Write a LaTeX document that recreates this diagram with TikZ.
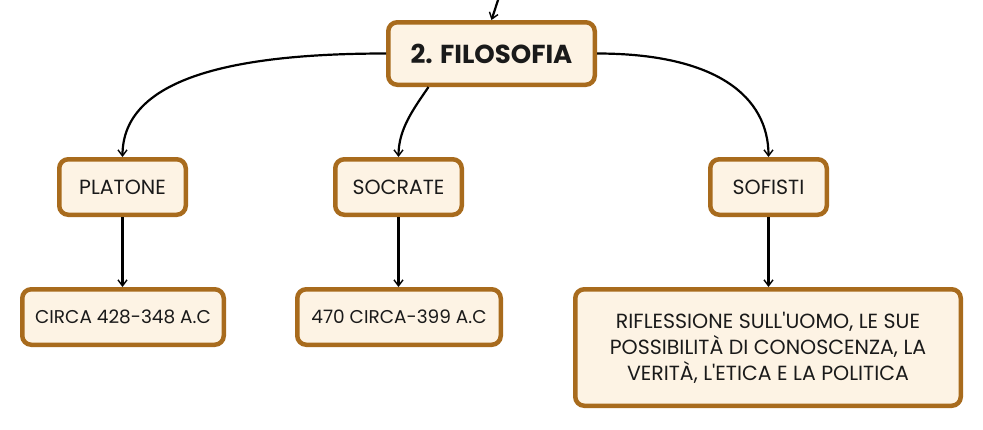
\documentclass[tikz,border=0pt]{standalone}
\usepackage{fontspec}
\setmainfont{Poppins}[Ligatures=TeXOff]
\usetikzlibrary{arrows.meta,calc}
\definecolor{brd}{HTML}{A86B1D}
\definecolor{fil}{HTML}{FDF3E4}
\definecolor{txt}{HTML}{1A1A1A}
\tikzset{
  box/.style={draw=brd, line width=4.5pt, fill=fil, rounded corners=9pt, inner sep=0pt,
    align=center, text=txt, font=\fontsize{20.5}{26}\selectfont},
  smallbox/.style={box, font=\fontsize{18.5}{26}\selectfont},
  conn/.style={draw=black, line width=2.2pt, -{Straight Barb[length=6pt,width=9pt,line width=1.4pt]}},
}
\begin{document}
\begin{tikzpicture}[x=1pt,y=-1pt]
\useasboundingbox (0,0) rectangle (983,429);
\node[box, minimum width=206.5pt, minimum height=62.5pt, font=\fontsize{26}{30}\selectfont\bfseries] (fil) at (491.5,53.5) {2. FILOSOFIA};
\node[box, minimum width=126.5pt, minimum height=55.5pt] (plat) at (122.5,187) {PLATONE};
\node[box, minimum width=126.5pt, minimum height=55.5pt] (socr) at (398.5,187) {SOCRATE};
\node[box, minimum width=116.5pt, minimum height=55.5pt] (sof) at (768.5,187) {SOFISTI};
\node[smallbox, minimum width=201.5pt, minimum height=55.5pt] (c1) at (123,317) {CIRCA 428-348 A.C};
\node[smallbox, minimum width=203.5pt, minimum height=55.5pt] (c2) at (399,317) {470 CIRCA-399 A.C};
\node[box, minimum width=385.5pt, minimum height=116.5pt] (rif) at (768,347.5) {RIFLESSIONE SULL'UOMO, LE SUE\\POSSIBILITÀ DI CONOSCENZA, LA\\VERITÀ, L'ETICA E LA POLITICA};
\coordinate (topin) at (499,-3);
\draw[conn] (topin) -- (fil.north);
\draw[conn] (fil.west) .. controls +(-150,0) and +(0,-80) .. (plat.north);
\draw[conn] ([xshift=-63pt]fil.south) .. controls +(-15,22) and +(0,-28) .. (socr.north);
\draw[conn] (fil.east) .. controls +(120,0) and +(0,-60) .. (sof.north);
\draw[conn] (plat.south) -- (plat.south |- c1.north);
\draw[conn] (socr.south) -- (socr.south |- c2.north);
\draw[conn] (sof.south) -- (sof.south |- rif.north);
\end{tikzpicture}
\end{document}
